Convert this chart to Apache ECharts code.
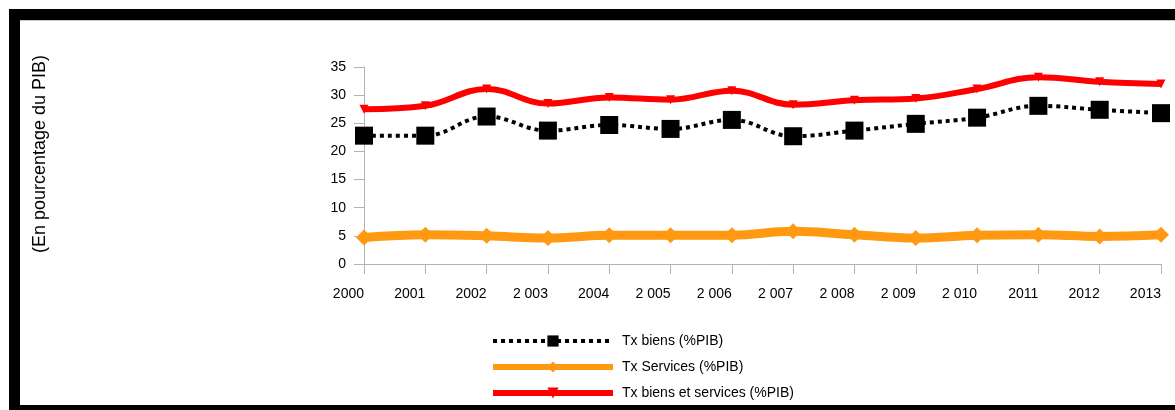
<!DOCTYPE html>
<html>
<head>
<meta charset="utf-8">
<script src="https://cdn.jsdelivr.net/npm/echarts@6/dist/echarts.min.js"></script>
<style>
  html, body { margin: 0; padding: 0; background: #fff; }
  #chart { width: 1175px; height: 410px; }
</style>
</head>
<body>
<div id="chart"></div>
<script>
// Years on the horizontal axis, labels as printed
const years = ['2000', '2001', '2002', '2 003', '2004', '2 005', '2 006',
               '2 007', '2 008', '2 009', '2 010', '2011', '2012', '2013'];

// Rates in percentage of GDP
const txBiens = [22.8, 22.8, 26.2, 23.7, 24.7, 24.0, 25.6, 22.7, 23.7, 24.9, 26.0, 28.1, 27.4, 26.8];
const txServices = [4.7, 5.2, 5.0, 4.6, 5.1, 5.1, 5.1, 5.8, 5.2, 4.6, 5.1, 5.2, 4.9, 5.2];
const txBiensServices = [27.5, 28.1, 31.1, 28.5, 29.6, 29.2, 30.8, 28.3, 29.1, 29.4, 31.1, 33.2, 32.4, 32.0];

const seriesNames = ['Tx biens (%PIB)', 'Tx Services (%PIB)', 'Tx biens et services (%PIB)'];
const yTicks = { min: 0, max: 35, interval: 5 };
const yTitle = '(En pourcentage du PIB)';

const FONT = '"Liberation Sans", Arial, sans-serif';
const axisGray = '#b3b3b3';
const SMOOTH = 0.4;

const chart = echarts.init(document.getElementById('chart'), null, { renderer: 'canvas' });

chart.setOption({
  backgroundColor: '#ffffff',
  animation: false,
  textStyle: { fontFamily: FONT, color: '#000' },
  grid: { left: 364, right: 14, top: 67, bottom: 146, containLabel: false },
  xAxis: {
    type: 'category',
    data: years,
    boundaryGap: false,
    axisLine: { lineStyle: { color: axisGray, width: 1 } },
    axisTick: { show: true, length: 10, inside: false, lineStyle: { color: axisGray } },
    axisLabel: { color: '#000', fontSize: 14, fontFamily: FONT, align: 'right', margin: 23, interval: 0 },
    splitLine: { show: false }
  },
  yAxis: {
    type: 'value',
    min: yTicks.min,
    max: yTicks.max,
    interval: yTicks.interval,
    axisLine: { show: true, lineStyle: { color: axisGray, width: 1 } },
    axisTick: { show: true, length: 10, inside: false, lineStyle: { color: axisGray } },
    axisLabel: { color: '#000', fontSize: 14, fontFamily: FONT, margin: 18 },
    splitLine: { show: false }
  },
  legend: {
    orient: 'vertical',
    left: 485,
    top: 329,
    itemWidth: 120,
    itemHeight: 14,
    itemGap: 12,
    textStyle: { fontSize: 14, fontFamily: FONT, color: '#000', padding: [0, 0, 0, 4] },
    data: [
      { name: seriesNames[0], lineStyle: { width: 4 }, itemStyle: { color: '#000' } },
      { name: seriesNames[1], lineStyle: { width: 6 } },
      { name: seriesNames[2], lineStyle: { width: 6 } }
    ]
  },
  series: [
    {
      name: seriesNames[2],
      type: 'line',
      data: txBiensServices,
      smooth: SMOOTH,
      color: '#ff0000',
      lineStyle: { color: '#ff0000', width: 6 },
      symbol: 'triangle',
      symbolRotate: 180,
      symbolSize: 9,
      itemStyle: { color: '#ff0000' },
      z: 2
    },
    {
      name: seriesNames[1],
      type: 'line',
      data: txServices,
      smooth: SMOOTH,
      color: '#ff9912',
      lineStyle: { color: '#ff9912', width: 9 },
      symbol: 'diamond',
      symbolSize: 16,
      itemStyle: { color: '#ff9912' },
      z: 3
    },
    {
      name: seriesNames[0],
      type: 'line',
      data: txBiens,
      smooth: SMOOTH,
      color: '#000000',
      lineStyle: { color: '#000000', width: 4, type: [4, 4] },
      symbol: 'rect',
      symbolSize: 18,
      itemStyle: { color: '#000000' },
      z: 4
    }
  ],
  graphic: [
    // frame bands
    { type: 'rect', shape: { x: 9, y: 9, width: 1166, height: 11 }, style: { fill: '#000' }, z: 10 },
    { type: 'rect', shape: { x: 9, y: 9, width: 11, height: 401 }, style: { fill: '#000' }, z: 10 },
    { type: 'rect', shape: { x: 9, y: 405, width: 1166, height: 5 }, style: { fill: '#000' }, z: 10 },
    { type: 'rect', shape: { x: 20, y: 20, width: 1155, height: 1 }, style: { fill: '#c8c8c8' }, z: 10 },
    // vertical axis title
    {
      type: 'text',
      x: 40,
      y: 154,
      rotation: Math.PI / 2,
      style: {
        text: yTitle,
        font: '18px ' + FONT,
        fill: '#000',
        textAlign: 'center',
        textVerticalAlign: 'middle'
      },
      z: 10
    }
  ]
});
</script>
</body>
</html>
